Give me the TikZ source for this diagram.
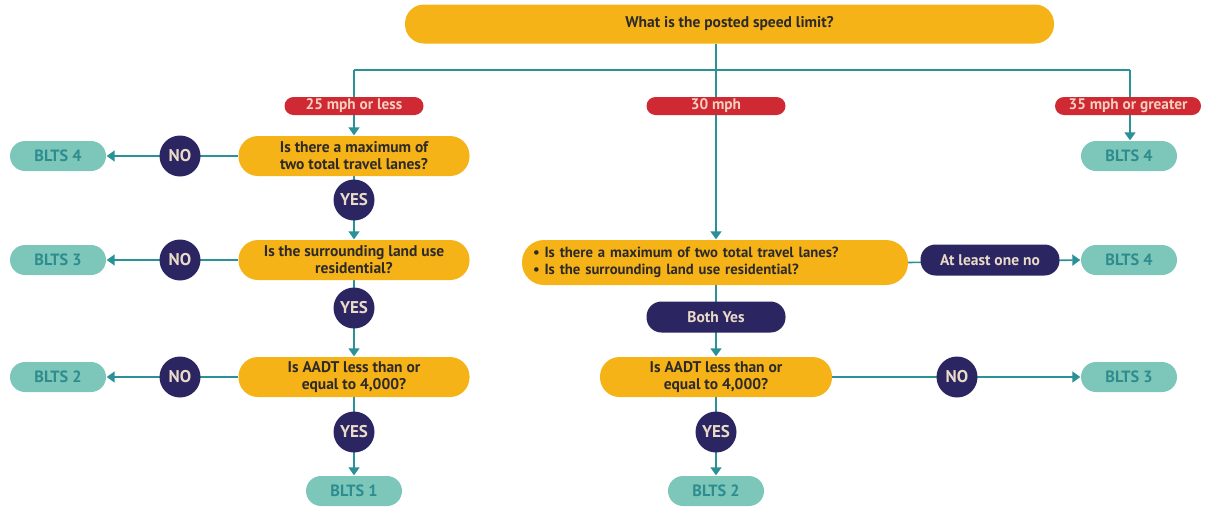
\documentclass[tikz,border=0pt]{standalone}
\usepackage{fontspec}
\setmainfont{PT Sans}
\usetikzlibrary{arrows.meta,backgrounds}
\definecolor{qyel}{HTML}{F5B317}
\definecolor{lred}{HTML}{CF2A33}
\definecolor{dnavy}{HTML}{2B2561}
\definecolor{tbox}{HTML}{7DC7BA}
\definecolor{ttext}{HTML}{2E8C8E}
\definecolor{lline}{HTML}{2A9197}
\definecolor{rtext}{HTML}{F3CFC0}
\definecolor{ctext}{HTML}{EADBC8}
\definecolor{qtext}{HTML}{2E2A2A}
\newcommand{\qfont}{\fontsize{15.5}{17}\selectfont\bfseries}
\newcommand{\lfont}{\fontsize{15.3}{17}\selectfont\bfseries}
\newcommand{\mfont}{\fontsize{14.7}{17}\selectfont\bfseries}
\newcommand{\cfont}{\fontsize{17}{18}\selectfont\bfseries}
\newcommand{\bfontx}{\fontsize{16.3}{17}\selectfont\bfseries}
\tikzset{
  qbox/.style={rectangle, rounded corners=19.5pt, fill=qyel, minimum width=231pt, minimum height=40pt, text=qtext, align=center, inner sep=0pt, font=\qfont},
  lab/.style={rectangle, rounded corners=9pt, fill=lred, minimum height=18pt, text=rtext, inner sep=0pt, font=\lfont},
  res/.style={rectangle, rounded corners=15pt, fill=tbox, minimum width=96pt, minimum height=30pt, text=ttext, inner sep=0pt, font=\bfontx},
  dec/.style={circle, fill=dnavy, minimum size=41pt, text=ctext, inner sep=0pt, font=\cfont},
  pill/.style={rectangle, rounded corners=15pt, fill=dnavy, minimum height=31pt, text=ctext, inner sep=0pt, font=\qfont},
  conn/.style={draw=lline, line width=1.6pt},
  arr/.style={conn, -{Triangle[length=8pt,width=11pt]}, shorten >=0.5pt},
}
\begin{document}
\begin{tikzpicture}[x=1pt,y=-1pt]
\useasboundingbox (0,0) rectangle (1206,507);
% top question
\node[qbox, minimum width=649pt, minimum height=39pt, rounded corners=19pt] (q0) at (729.5,24) {What is the posted speed limit?};
\coordinate (jL) at (354,70);
\coordinate (jM) at (716,70);
\coordinate (jR) at (1130,70);
% speed labels
\node[lab, minimum width=139pt] (l25) at (354,106) {25 mph or less};
\node[lab, minimum width=139pt] (l30) at (716,106) {30 mph};
\node[lab, minimum width=146pt] (l35) at (1128,106) {35 mph or greater};
% left column
\node[qbox] (q1) at (354,156) {Is there a maximum of\\two total travel lanes?};
\node[dec] (n1) at (180,156) {NO};
\node[res] (b4L) at (58,156) {BLTS 4};
\node[dec] (y1) at (354,200) {YES};
\node[qbox] (q2) at (354,260) {Is the surrounding land use\\residential?};
\node[dec] (n2) at (180,260) {NO};
\node[res] (b3L) at (58,260) {BLTS 3};
\node[dec] (y2) at (354,308) {YES};
\node[qbox] (q3) at (354,377) {Is AADT less than or\\equal to 4,000?};
\node[dec] (n3) at (180,377) {NO};
\node[res] (b2L) at (58,377) {BLTS 2};
\node[dec] (y3) at (354,432) {YES};
\node[res] (b1L) at (354,491) {BLTS 1};
% middle column
\node[qbox, minimum width=386pt, minimum height=45pt, rounded corners=22pt, align=left, text width=364pt, font=\mfont] (qm1) at (715,262.5) {\textbullet\ Is there a maximum of two total travel lanes?\\\textbullet\ Is the surrounding land use residential?};
\node[pill, minimum width=139pt] (alo) at (990,260) {At least one no};
\node[res] (b4R) at (1129,260) {BLTS 4};
\node[pill, minimum width=139pt] (by) at (716,317) {Both Yes};
\node[qbox, minimum width=232pt] (qm2) at (716,377) {Is AADT less than or\\equal to 4,000?};
\node[dec] (n4) at (957,377) {NO};
\node[res] (b3R) at (1129,377) {BLTS 3};
\node[dec] (y4) at (716,432) {YES};
\node[res] (b2M) at (716,491) {BLTS 2};
% right column
\node[res] (b4T) at (1129,156) {BLTS 4};
\begin{scope}[on background layer]
  \draw[conn] (q0.south -| jM) -- (jM);
  \draw[conn] (jL) -- (jR);
  \draw[arr] (jL) -- (q1.north);
  \draw[arr] (jM) -- (qm1.north -| jM);
  \draw[arr] (jR) -- (b4T.north -| jR);
  \draw[arr] (q1.west) -- (b4L.east);
  \draw[arr] (q1.south) -- (q2.north);
  \draw[arr] (q2.west) -- (b3L.east);
  \draw[arr] (q2.south) -- (q3.north);
  \draw[arr] (q3.west) -- (b2L.east);
  \draw[arr] (q3.south) -- (b1L.north);
  \draw[arr] (qm1.east) -- (b4R.west);
  \draw[arr] (qm1.south -| by) -- (qm2.north);
  \draw[arr] (qm2.east) -- (b3R.west);
  \draw[arr] (qm2.south) -- (b2M.north);
\end{scope}
\end{tikzpicture}
\end{document}
